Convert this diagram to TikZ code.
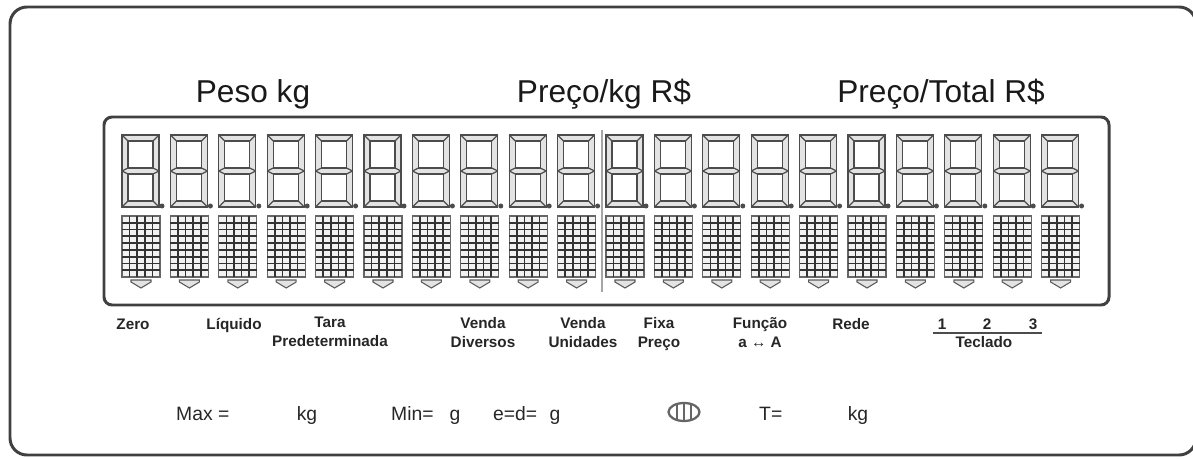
\documentclass[tikz,border=0pt]{standalone}
\usepackage{fontspec}
\setmainfont{Liberation Sans}
\usetikzlibrary{positioning,calc,shapes.geometric}
\tikzset{
  frameline/.style={draw=black!75, line width=1.7pt},
  segline/.style={draw=black!70, fill=gray!22, line width=0.7pt},
  dotbox/.style={draw=black!60, fill=gray!10, line width=0.7pt},
  gridline/.style={draw=black!80, line width=1pt},
  chevron/.style={draw=black!65, fill=gray!22, line width=0.6pt},
  titletext/.style={font=\fontsize{18}{21}\selectfont, anchor=base, text=black!90},
  keytext/.style={font=\bfseries\fontsize{8.7}{10.8}\selectfont, align=center, inner sep=0pt, text=black!85},
  infotext/.style={font=\fontsize{11}{13}\selectfont, anchor=base, text=black!85},
  classmark/.style={draw=black!60, ellipse, line width=1.3pt, minimum width=0.62cm, minimum height=0.36cm, inner sep=0pt, outer sep=0pt},
}

\begin{document}
\begin{tikzpicture}[x=0.02cm, y=-0.02cm]
  \useasboundingbox (0,0) rectangle (1193,459);
  % housing and display window
  \draw[frameline, rounded corners=0.34cm] (10,7) rectangle (1196,455);
  \draw[frameline, rounded corners=0.16cm] (104,117) rectangle (1109,305);

  \node[titletext] (peso) at (253,103) {Peso kg};
  \node[titletext] (precokg) at (604,103) {Preço/kg R\$};
  \node[titletext] (precototal) at (941,103) {Preço/Total R\$};

  % 20 positions: 7 segments, dot matrix, marker
  \foreach \i in {0,...,19} {
    \begin{scope}[shift={(122+48.4*\i,135)}]
      \filldraw[segline, even odd rule] (0,0) rectangle (37,72) (6,6) rectangle (31,33) (6,39) rectangle (31,66);
      \draw[segline] (0,0) -- (6,6) (37,0) -- (31,6) (0,72) -- (6,66) (37,72) -- (31,66)
        (0,36) -- (6,33) (0,36) -- (6,39) (37,36) -- (31,33) (37,36) -- (31,39);
      \fill[black!70] (40,71) circle (2.5);
      \filldraw[dotbox] (0,81) rectangle (38,142);
      \foreach \c in {1,...,4} \draw[gridline] (\c*7.6,81) -- (\c*7.6,142);
      \foreach \r in {1,...,8} \draw[gridline] (0,81+\r*6.78) -- (38,81+\r*6.78);
      \filldraw[chevron] (9,145) -- (29,145) -- (29,147) -- (19,153) -- (9,147) -- cycle;
    \end{scope}
  }
  \coordinate (septop) at (602,130);
  \coordinate (sepbot) at (602,292);
  \draw[gray!70, line width=1.1pt] (septop) -- (sepbot);

  % key labels
  \node[keytext, anchor=base] (zero) at (133,329) {Zero};
  \node[keytext, anchor=base] (liquido) at (234,329) {Líquido};
  \node[keytext, anchor=north] (tara) at (330,317) {Tara\\Predeterminada};
  \node[keytext, anchor=north] (diversos) at (483,317) {Venda\\Diversos};
  \node[keytext, anchor=north] (unidades) at (583,317) {Venda\\Unidades};
  \node[keytext, anchor=north] (fixa) at (659,317) {Fixa\\Preço};
  \node[keytext, anchor=north] (funcao) at (760,317) {Função\\a ↔ A};
  \node[keytext, anchor=base] (rede) at (851,329) {Rede};
  \node[keytext, anchor=base] (tec1) at (942,329) {1};
  \node[keytext, anchor=base] (tec2) at (987,329) {2};
  \node[keytext, anchor=base] (tec3) at (1033,329) {3};
  \coordinate (tecl) at (933,333);
  \coordinate (tecr) at (1042,333);
  \draw[black!70, line width=0.9pt] (tecl) -- (tecr);
  \node[keytext, anchor=base] (teclado) at (984,347) {Teclado};

  % metrology line
  \node[infotext, anchor=base west] (maxv) at (170,420) {Max =};
  \node[infotext] (maxkg) at (307,420) {kg};
  \node[infotext, anchor=base west] (minv) at (385,420) {Min=};
  \node[infotext] (ming) at (455,420) {g};
  \node[infotext, anchor=base west] (edv) at (487,420) {e=d=};
  \node[infotext] (edg) at (555,420) {g};
  \node[classmark] (classe) at (684,412) {};
  \foreach \dx in {-7,0,7}
    \draw[black!60, line width=1.3pt] ([xshift=\dx*0.02cm]classe.north) -- ([xshift=\dx*0.02cm]classe.south);
  \node[infotext, anchor=base west] (tv) at (753,420) {T=};
  \node[infotext] (tkg) at (858,420) {kg};
\end{tikzpicture}
\end{document}
